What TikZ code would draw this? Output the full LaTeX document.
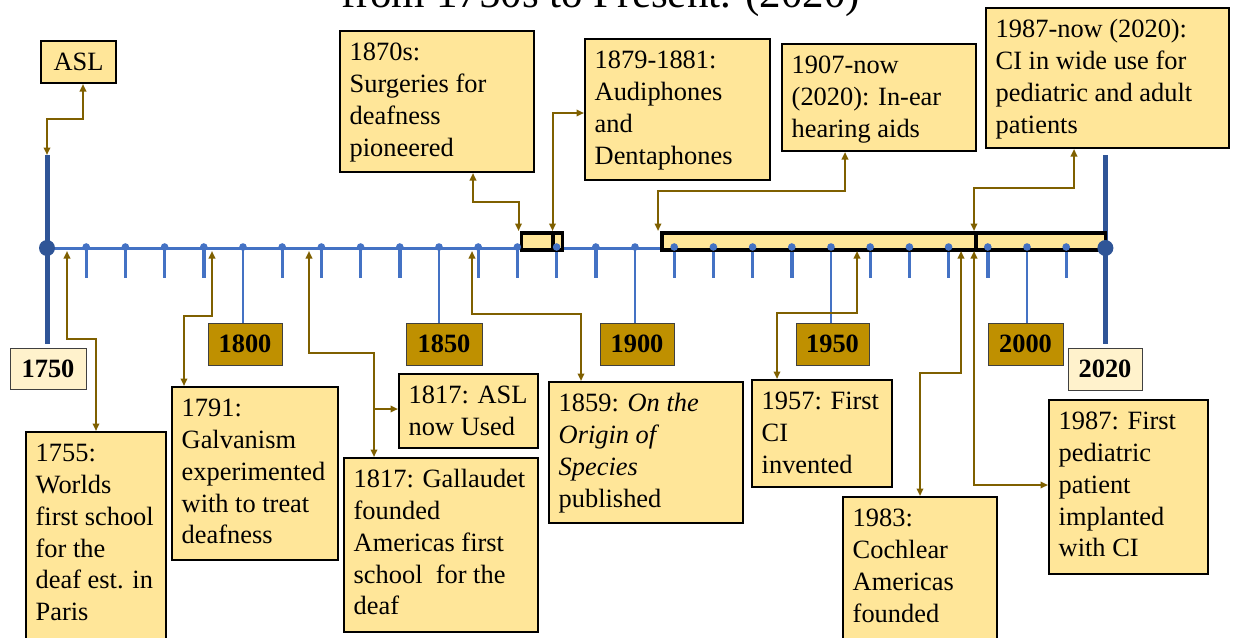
\documentclass[tikz,border=0pt]{standalone}
\usepackage{fontspec}
\setmainfont{Liberation Serif}
\usetikzlibrary{arrows.meta,calc}
\definecolor{tlblue}{HTML}{4472C4}
\definecolor{endblue}{HTML}{2F5597}
\definecolor{arrowc}{HTML}{7F6000}
\definecolor{evfill}{HTML}{FFE699}
\definecolor{yrdark}{HTML}{BF9000}
\definecolor{yrlight}{HTML}{FFF2CC}
\definecolor{yrline}{HTML}{404040}
\newcommand\evfont{\fontsize{26.4}{31.8}\selectfont}
% name, x1, y1, x2, y2, text
\newcommand\EvBox[6]{%
  \node[evbox, minimum width={#4-#2-2}, minimum height={#5-#3-2}, anchor=north west] (#1) at (#2+1,#3+1) {};
  \node[evtext] (#1t) at ([xshift=10.5pt,yshift=-8.2pt]#1.north west) {\strut #6};
}
\newcommand\YrBox[7]{% name, x1, y1, x2, y2, style, text
  \node[#6, minimum width={#4-#2-1}, minimum height={#5-#3-1}, anchor=north west] (#1) at (#2+0.5,#3+0.5) {#7};
}
\begin{document}
\begin{tikzpicture}[x=1pt,y=-1pt,
  evbox/.style={draw=black, line width=2pt, fill=evfill, inner sep=0pt},
  evtext/.style={inner sep=0pt, align=left, font=\evfont, anchor=north west},
  yrd/.style={draw=yrline, line width=1pt, fill=yrdark, inner sep=0pt, font=\evfont\bfseries},
  yrl/.style={draw=yrline, line width=1pt, fill=yrlight, inner sep=0pt, font=\evfont\bfseries},
  bar/.style={draw=black, line width=3.5pt, fill=evfill, inner sep=0pt, minimum height=17pt, anchor=north west},
  conn/.style={draw=arrowc, line width=2pt, {Triangle[length=7.5pt,width=6.5pt]}-{Triangle[length=7.5pt,width=6.5pt]}},
  connone/.style={draw=arrowc, line width=2pt, -{Triangle[length=7.5pt,width=6.5pt]}},
  tline/.style={draw=tlblue, line width=3pt},
  stick/.style={draw=tlblue, line width=3.4pt},
  ltick/.style={draw=tlblue, line width=2.2pt},
  endline/.style={draw=endblue, line width=5pt},
  dot/.style={fill=tlblue},
  enddot/.style={fill=endblue}
]
\useasboundingbox (0,0) rectangle (1236,637);

% title (partly cut off at the top, as in the reference)
\node[anchor=base, inner sep=0pt, font=\fontsize{43}{50}\selectfont] (title) at (601,8) {from 1750s to Present. (2020)};

% timeline coordinates
\coordinate (t1750) at (47,248);
\coordinate (t2020) at (1105.4,248);
\coordinate (e1750top) at (47,155);
\coordinate (e2020top) at (1105.4,155);

% year boxes
\YrBox{y1750}{9}{347}{86}{389}{yrl}{1750}
\YrBox{y1800}{207}{322}{282}{365}{yrd}{1800}
\YrBox{y1850}{405}{322}{482}{365}{yrd}{1850}
\YrBox{y1900}{599}{322}{674}{365}{yrd}{1900}
\YrBox{y1950}{795}{322}{869}{365}{yrd}{1950}
\YrBox{y2000}{987}{322}{1063}{365}{yrd}{2000}
\YrBox{y2020}{1067}{347}{1142}{390}{yrl}{2020}

% end verticals
\draw[endline] (e1750top) -- ([yshift=4pt]e1750top |- y1750.north);
\draw[endline] (e2020top) -- ([yshift=4pt]e2020top |- y2020.north);

% main line
\draw[tline] (t1750) -- (t2020);

% ticks
\foreach \d in {1760,1770,1780,1790,1810,1820,1830,1840,1860,1870,1880,1890,1910,1920,1930,1940,1960,1970,1980,1990,2010}{
  \coordinate (tk\d) at ({47+(\d-1750)*3.92},248);
  \draw[stick] (tk\d) -- ++(0,30);
}
\foreach \d in {1800,1850,1900,1950,2000}{
  \coordinate (tk\d) at ({47+(\d-1750)*3.92},248);
  \draw[ltick] (tk\d) -- (tk\d |- y\d.north);
}

% bars
\node[bar, minimum width=31.5pt] (barA) at (519.5,231) {};
\node[bar, minimum width=9.5pt] (barB) at (551,231) {};
\node[bar, minimum width=314pt] (barC) at (660,231) {};
\node[bar, minimum width=129.5pt] (barD) at (974,231) {};

% decade dots
\foreach \d in {1760,1770,...,2010}{
  \fill[dot] ({47+(\d-1750)*3.92},247) circle (3.8);
}
\fill[enddot] (t1750) circle (8);
\fill[enddot] (t2020) circle (8);

% event boxes
\node[evbox, font=\evfont, minimum width=75pt, minimum height=42pt, anchor=north west] (asl) at (40,40) {ASL};
\EvBox{b1870}{338}{29}{534}{172}{1870s:\\Surgeries for\\deafness\\pioneered}
\EvBox{b1879}{583}{37}{770}{180}{1879-1881:\\Audiphones\\and\\Dentaphones}
\EvBox{b1907}{780}{42}{976}{151}{1907-now\\(2020): In-ear\\hearing aids}
\EvBox{b1987now}{984}{6}{1229}{148}{1987-now (2020):\\CI in wide use for\\pediatric and adult\\patients}
\EvBox{b1755}{24}{430}{166}{660}{1755:\\Worlds\\first school\\for the\\deaf est. in\\Paris}
\EvBox{b1791}{170}{385}{338}{560}{1791:\\Galvanism\\experimented\\with to treat\\deafness}
\EvBox{b1817a}{397}{372}{538}{448}{1817: ASL\\now Used}
\EvBox{b1817g}{342}{456}{538}{632}{1817: Gallaudet\\founded\\Americas first\\school\ \ for the\\deaf}
\EvBox{b1859}{547}{380}{743}{523}{1859: \textit{On the}\\\textit{Origin of}\\\textit{Species}\\published}
\EvBox{b1957}{750}{378}{892}{487}{1957: First\\CI\\invented}
\EvBox{b1983}{841}{495}{997}{660}{1983:\\Cochlear\\Americas\\founded}
\EvBox{b1987}{1047}{398}{1208}{574}{1987: First\\pediatric\\patient\\implanted\\with CI}

% connectors above the line
\draw[conn] ([xshift=4.5pt]asl.south) -- ++(0,35) -| (e1750top);
\draw[conn] ([xshift=36pt]b1870.south) -- ++(0,29) -| ([xshift=-1pt]barA.north west);
\draw[conn] ([xshift=-2pt]barA.north east) |- ([yshift=-3.5pt]b1879.west);
\draw[conn] ([xshift=-2pt]barC.north west) -- ++(0,-40) -| ([xshift=-34pt]b1907.south);
\draw[conn] (barD.north west) -- ++(0,-43) -| ([xshift=-33.5pt]b1987now.south);

% connectors below the line
\coordinate (a1755) at (67,251);
\coordinate (a1791) at (212,251);
\coordinate (a1817) at (309,251);
\coordinate (a1859) at (472,251);
\coordinate (a1957) at (857,251);
\coordinate (a1983) at (961,251);
\coordinate (a1987) at (974,251);
\coordinate (br1817) at (373,409);
\draw[conn] (a1755) -- ++(0,88) -| (b1755.north);
\draw[conn] (a1791) -- ++(0,65) -| ([xshift=-71pt]b1791.north);
\draw[conn] (a1817) -- ++(0,102) -| ([xshift=-67pt]b1817g.north);
\draw[connone] (br1817) -- (b1817a.west |- br1817);
\draw[conn] (a1859) -- ++(0,63) -| ([xshift=-65pt]b1859.north);
\draw[conn] (a1957) -- ++(0,62) -| ([xshift=-45pt]b1957.north);
\draw[conn] (a1983) -- ++(0,122) -| (b1983.north);
\draw[conn] (a1987) |- ([yshift=2pt]b1987.west);
\end{tikzpicture}
\end{document}
